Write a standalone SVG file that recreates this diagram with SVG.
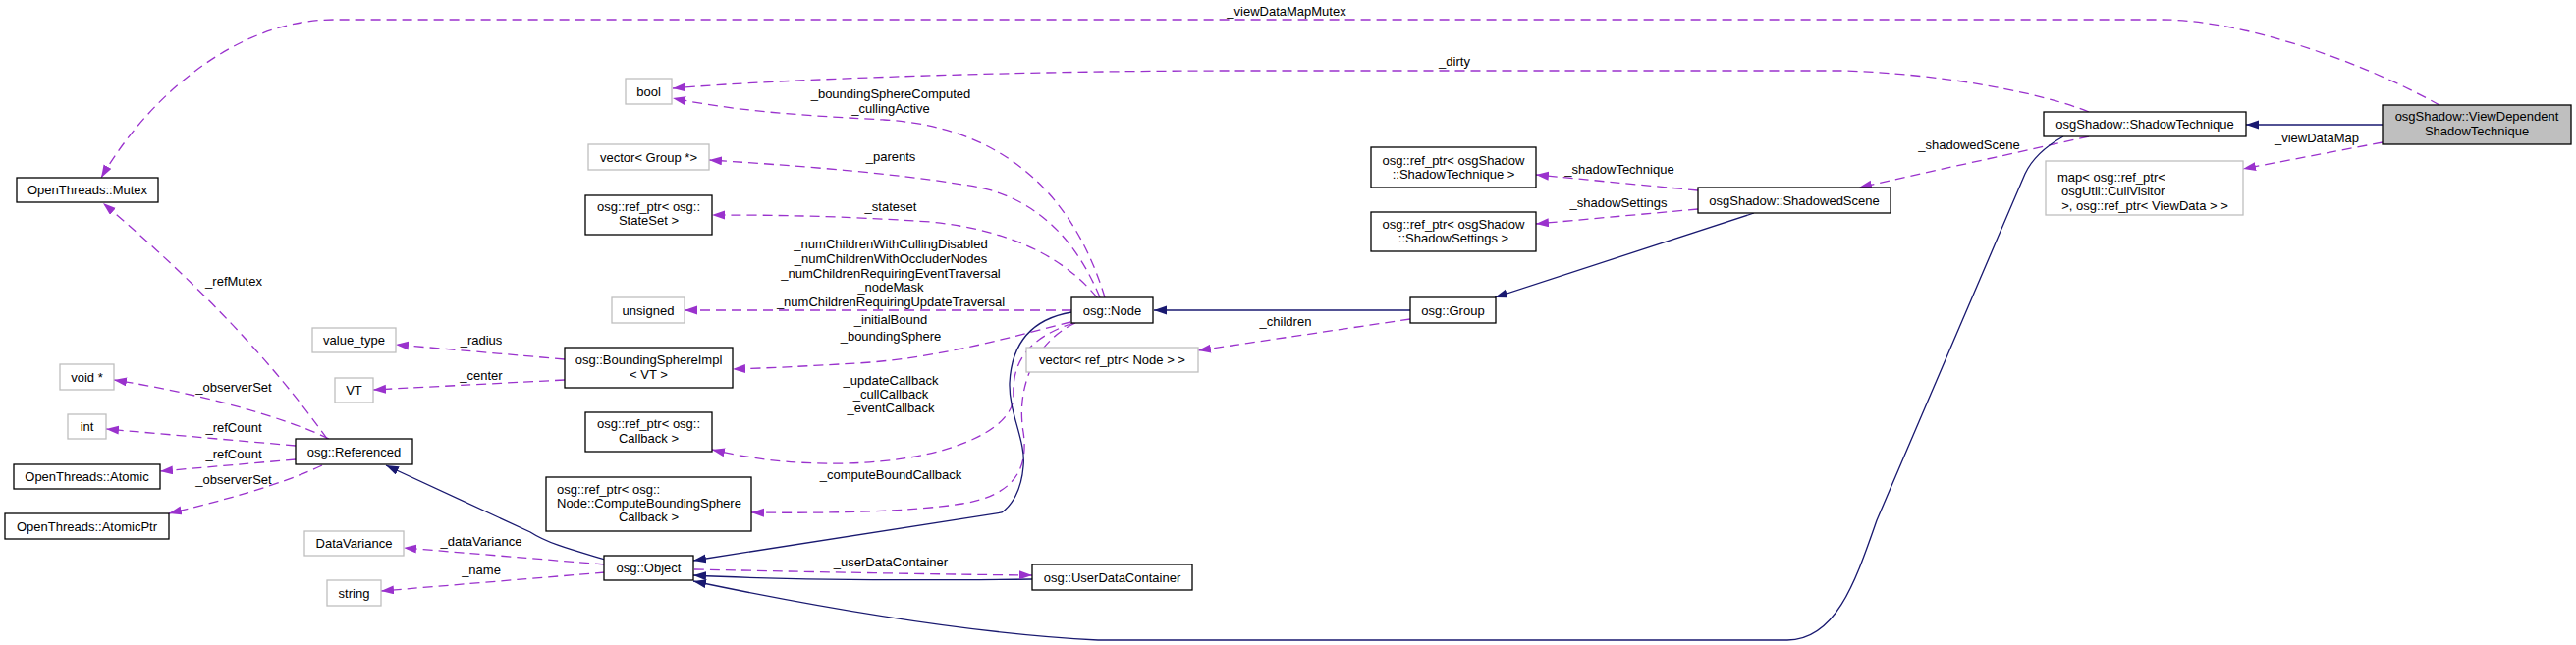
<svg xmlns="http://www.w3.org/2000/svg" width="2623" height="657" viewBox="0 0 2623 657">
<style>
text{font-family:"Liberation Sans",Arial,Helvetica,sans-serif;font-size:13px;fill:#000}
.c{text-anchor:middle}
.n rect{fill:#fff;stroke:#000;stroke-width:1.3}
.x rect{fill:#fff;stroke:#bfbfbf;stroke-width:1.3}
.m rect{fill:#bfbfbf;stroke:#000;stroke-width:1.3}
.e{fill:none;stroke:#9a32cd;stroke-width:1.3;stroke-dasharray:10,6;marker-end:url(#ap)}
.i{fill:none;stroke:#191970;stroke-width:1.3;marker-end:url(#an)}
</style>
<defs>
<marker id="ap" markerUnits="userSpaceOnUse" markerWidth="14" markerHeight="10" refX="13" refY="4.5" orient="auto"><path d="M0,0 L13,4.5 L0,9 z" fill="#9a32cd"/></marker>
<marker id="an" markerUnits="userSpaceOnUse" markerWidth="14" markerHeight="10" refX="13" refY="4.5" orient="auto"><path d="M0,0 L13,4.5 L0,9 z" fill="#191970"/></marker>
</defs>
<rect width="2623" height="657" fill="#fff"/>

<g id="edges">
<path class="e" d="M2484,107 C2400,60 2280,20 2201,20 L340,20 C240,20 150,100 103,181"/>
<text class="c" x="1310" y="16">_viewDataMapMutex</text>
<path class="e" d="M2127,114 C2080,95 1980,75 1875,72 L1260,72 C1050,72 800,80 685,90"/>
<text class="c" x="1481" y="67">_dirty</text>
<path class="e" d="M1125,303 C1100,220 1040,130 900,122 C830,118 760,115 685,100"/>
<text class="c" x="907" y="100">_boundingSphereComputed</text>
<text class="c" x="907" y="115">_cullingActive</text>
<path class="e" d="M1120,303 C1090,230 1040,195 980,188 C900,175 800,168 722,163"/>
<text class="c" x="907" y="164">_parents</text>
<path class="e" d="M1117,303 C1090,270 1040,235 947,226 C860,220 790,219 725,219"/>
<text class="c" x="907" y="215">_stateset</text>
<path class="e" d="M1091,316 L697,316"/>
<text class="c" x="907" y="253">_numChildrenWithCullingDisabled</text>
<text class="c" x="907" y="268">_numChildrenWithOccluderNodes</text>
<text class="c" x="907" y="282.5">_numChildrenRequiringEventTraversal</text>
<text class="c" x="907" y="297">_nodeMask</text>
<text class="c" x="907" y="312">_numChildrenRequiringUpdateTraversal</text>
<path class="e" d="M1090,328 C1040,340 960,365 872,370 C820,373 780,375 746,376"/>
<text class="c" x="907" y="330">_initialBound</text>
<text class="c" x="907" y="347">_boundingSphere</text>
<path class="e" d="M1093,329 C1045,345 1030,370 1032,405 C1030,440 960,470 860,472 C800,473 760,466 725,458"/>
<text class="c" x="907" y="392">_updateCallback</text>
<text class="c" x="907" y="406">_cullCallback</text>
<text class="c" x="907" y="420">_eventCallback</text>
<path class="e" d="M1095,329 C1050,350 1035,400 1042,440 C1048,480 1030,505 980,513 C930,521 850,523 765,522"/>
<text class="c" x="907" y="488">_computeBoundCallback</text>
<path class="i" d="M1091,318 C1050,325 1030,350 1028,390 C1027,420 1045,450 1042,475 C1040,500 1030,515 1020,522 L706,571"/>
<path class="i" d="M1436,316 L1175,316"/>
<path class="e" d="M1436,325 L1220,357"/>
<text class="c" x="1309" y="332">_children</text>
<path class="i" d="M1786,217 L1522,303"/>
<path class="e" d="M1729,194 L1564,178"/>
<text class="c" x="1649" y="177">_shadowTechnique</text>
<path class="e" d="M1729,213 L1564,228"/>
<text class="c" x="1648" y="211">_shadowSettings</text>
<path class="e" d="M2127,139 L1893,191"/>
<text class="c" x="2005" y="152">_shadowedScene</text>
<path class="i" d="M2101,139 C2085,148 2070,160 2062,177 L1911,530 C1890,590 1870,652 1820,652 L1118,652 C1000,646 850,622 706,592"/>
<path class="i" d="M1051,590 C950,591 800,591 706,586"/>
<path class="e" d="M707,580 C800,582 950,585 1051,586"/>
<text class="c" x="907" y="577">_userDataContainer</text>
<path class="i" d="M616,570 C590,562 560,555 540,542 L393,474"/>
<path class="e" d="M616,575 L411,558"/>
<text class="c" x="490" y="556">_dataVariance</text>
<path class="e" d="M616,583 L388,602"/>
<text class="c" x="490" y="585">_name</text>
<path class="e" d="M575,366 L403,351"/>
<text class="c" x="490" y="351">_radius</text>
<path class="e" d="M575,387 L380,397"/>
<text class="c" x="490" y="387">_center</text>
<path class="e" d="M333,447 Q250,330 105,207"/>
<text class="c" x="238" y="291">_refMutex</text>
<path class="e" d="M335,447 C290,425 200,400 116,387"/>
<text class="c" x="238" y="399">_observerSet</text>
<path class="e" d="M301,454 L108,437"/>
<text class="c" x="238" y="440">_refCount</text>
<path class="e" d="M301,468 L163,480"/>
<text class="c" x="238" y="467">_refCount</text>
<path class="e" d="M328,474 C300,487 260,502 172,523"/>
<text class="c" x="238" y="493">_observerSet</text>
<path class="i" d="M2426,127 L2287,127"/>
<path class="e" d="M2426,145 L2284,172"/>
<text class="c" x="2359" y="145">_viewDataMap</text>
</g>

<g id="n_vdst" class="m"><rect x="2426" y="107" width="192" height="40"/><text class="c" x="2522" y="123">osgShadow::ViewDependent</text><text class="c" x="2522" y="137.5">ShadowTechnique</text></g>
<g id="n_shadowtechnique" class="n"><rect x="2081" y="114" width="206" height="25"/><text class="c" x="2184" y="131">osgShadow::ShadowTechnique</text></g>
<g id="n_map" class="x"><rect x="2083" y="164" width="201" height="55"/><text x="2095" y="185">map&lt; osg::ref_ptr&lt;</text><text x="2099" y="199">osgUtil::CullVisitor</text><text class="c" x="2184" y="214">&gt;, osg::ref_ptr&lt; ViewData &gt; &gt;</text></g>
<g id="n_shadowedscene" class="n"><rect x="1729" y="191" width="196" height="26"/><text class="c" x="1827" y="208.5">osgShadow::ShadowedScene</text></g>
<g id="n_refshadowtech" class="n"><rect x="1396" y="150" width="168" height="41"/><text class="c" x="1480" y="167.5">osg::ref_ptr&lt; osgShadow</text><text class="c" x="1480" y="182">::ShadowTechnique &gt;</text></g>
<g id="n_refshadowsettings" class="n"><rect x="1396" y="216" width="168" height="40"/><text class="c" x="1480" y="233">osg::ref_ptr&lt; osgShadow</text><text class="c" x="1480" y="247">::ShadowSettings &gt;</text></g>
<g id="n_group" class="n"><rect x="1436" y="303" width="87" height="26"/><text class="c" x="1479.5" y="320.5">osg::Group</text></g>
<g id="n_node" class="n"><rect x="1091" y="303" width="83" height="26"/><text class="c" x="1132.5" y="320.5">osg::Node</text></g>
<g id="n_vecnode" class="x"><rect x="1045" y="354" width="175" height="25"/><text class="c" x="1132.5" y="371">vector&lt; ref_ptr&lt; Node &gt; &gt;</text></g>
<g id="n_udc" class="n"><rect x="1051" y="575" width="163" height="26"/><text class="c" x="1132.5" y="592.5">osg::UserDataContainer</text></g>
<g id="n_bool" class="x"><rect x="637" y="80" width="47" height="26"/><text class="c" x="660.5" y="97.5">bool</text></g>
<g id="n_vecgroup" class="x"><rect x="599" y="147" width="123" height="26"/><text class="c" x="660.5" y="164.5">vector&lt; Group *&gt;</text></g>
<g id="n_stateset" class="n"><rect x="596" y="199" width="129" height="40"/><text class="c" x="660.5" y="215">osg::ref_ptr&lt; osg::</text><text class="c" x="660.5" y="229">StateSet &gt;</text></g>
<g id="n_unsigned" class="x"><rect x="623" y="303" width="74" height="26"/><text class="c" x="660" y="320.5">unsigned</text></g>
<g id="n_bsi" class="n"><rect x="575" y="354" width="171" height="41"/><text class="c" x="660.5" y="371">osg::BoundingSphereImpl</text><text class="c" x="660.5" y="385.5">&lt; VT &gt;</text></g>
<g id="n_callback" class="n"><rect x="596" y="420" width="129" height="40"/><text class="c" x="660.5" y="436">osg::ref_ptr&lt; osg::</text><text class="c" x="660.5" y="451">Callback &gt;</text></g>
<g id="n_cbsc" class="n"><rect x="556" y="486" width="209" height="55"/><text x="567" y="503">osg::ref_ptr&lt; osg::</text><text x="567" y="517">Node::ComputeBoundingSphere</text><text class="c" x="660.5" y="531">Callback &gt;</text></g>
<g id="n_object" class="n"><rect x="615" y="566" width="91" height="25"/><text class="c" x="660.5" y="583">osg::Object</text></g>
<g id="n_referenced" class="n"><rect x="301" y="447" width="119" height="26"/><text class="c" x="360.5" y="464.5">osg::Referenced</text></g>
<g id="n_valuetype" class="x"><rect x="318" y="334" width="85" height="25"/><text class="c" x="360.5" y="351">value_type</text></g>
<g id="n_vt" class="x"><rect x="341" y="385" width="39" height="25"/><text class="c" x="360.5" y="402">VT</text></g>
<g id="n_datavariance" class="x"><rect x="310" y="541" width="101" height="25"/><text class="c" x="360.5" y="558">DataVariance</text></g>
<g id="n_string" class="x"><rect x="333" y="591" width="55" height="26"/><text class="c" x="360.5" y="608.5">string</text></g>
<g id="n_mutex" class="n"><rect x="17" y="181" width="144" height="25"/><text class="c" x="89" y="198">OpenThreads::Mutex</text></g>
<g id="n_void" class="x"><rect x="61" y="371" width="55" height="26"/><text class="c" x="88.5" y="388.5">void *</text></g>
<g id="n_int" class="x"><rect x="69" y="422" width="39" height="25"/><text class="c" x="88.5" y="439">int</text></g>
<g id="n_atomic" class="n"><rect x="14" y="473" width="149" height="25"/><text class="c" x="88.5" y="490">OpenThreads::Atomic</text></g>
<g id="n_atomicptr" class="n"><rect x="5" y="523" width="167" height="26"/><text class="c" x="88.5" y="540.5">OpenThreads::AtomicPtr</text></g>
</svg>
